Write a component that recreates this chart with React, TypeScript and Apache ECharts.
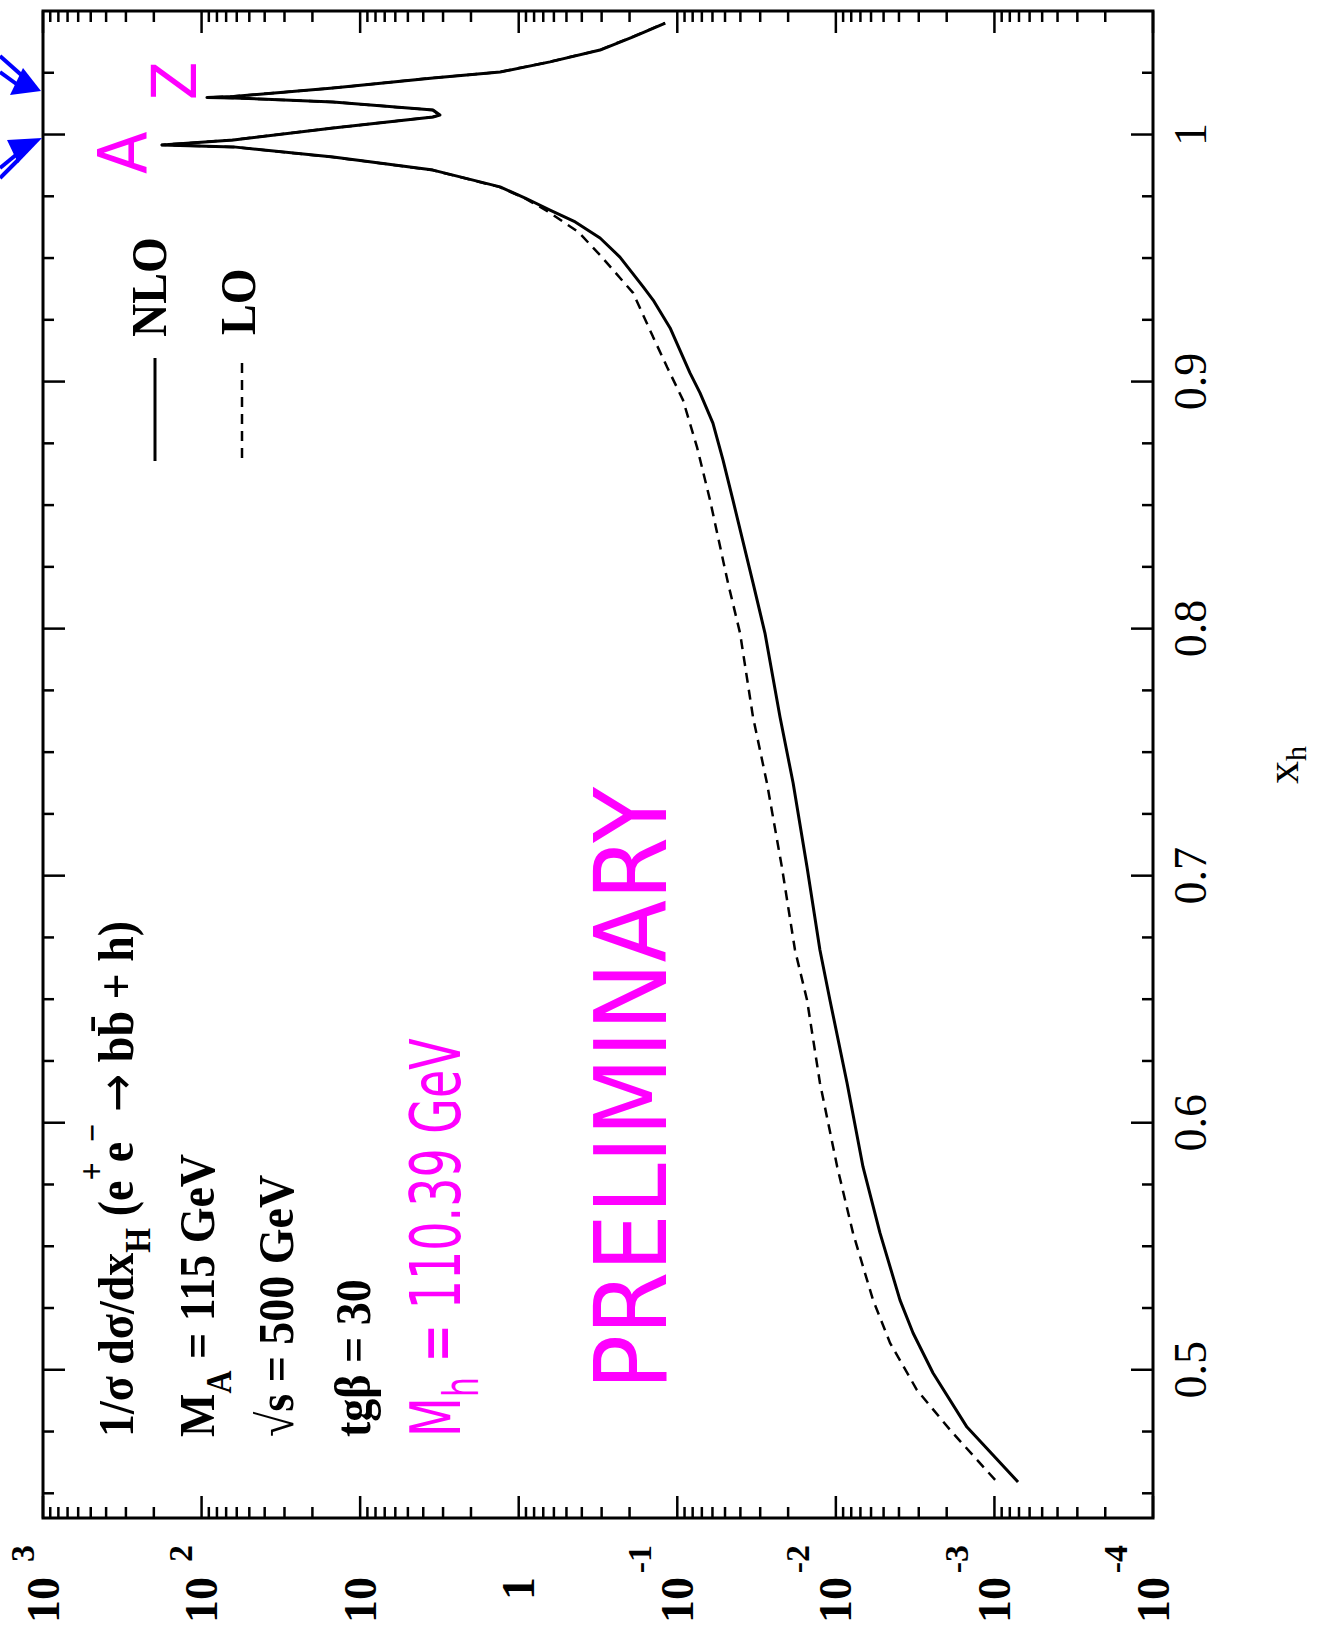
import React, { useEffect, useRef } from "react";
import * as echarts from "echarts";

// ---- data (x_h, 1/sigma dsigma/dx_H) ----
const nloXh = [0.4546, 0.4768, 0.4987, 0.5149, 0.5282, 0.5554, 0.5821, 0.6161, 0.6497, 0.6699, 0.7035, 0.7375, 0.7642, 0.7982, 0.8185, 0.8521, 0.8683, 0.8832, 0.8954, 0.9035, 0.9217, 0.933, 0.9383, 0.9504, 0.9581, 0.9646, 0.9694, 0.9743, 0.9788, 0.9856, 0.9909, 0.995, 0.9958, 0.9978, 1.0026, 1.0071, 1.0079, 1.0099, 1.0132, 1.0148, 1.015, 1.0154, 1.0188, 1.0229, 1.0253, 1.0294, 1.0342, 1.0395, 1.0451];
const nloVal = [7.1e-4, 1.49e-3, 2.44e-3, 3.26e-3, 3.94e-3, 5.27e-3, 6.74e-3, 8.5e-3, 0.0109, 0.0126, 0.0152, 0.0186, 0.0225, 0.028, 0.0333, 0.0446, 0.0515, 0.0596, 0.0719, 0.0832, 0.111, 0.142, 0.164, 0.23, 0.307, 0.44, 0.635, 0.91, 1.31, 3.47, 14.8, 63, 178, 63, 14.8, 3.47, 3.14, 3.47, 14.8, 63, 92.5, 63, 14.8, 3.47, 1.31, 0.635, 0.307, 0.19, 0.119];

const loXh = [0.4554, 0.4756, 0.4918, 0.5108, 0.5283, 0.5554, 0.5821, 0.6161, 0.6497, 0.6699, 0.7035, 0.7375, 0.7642, 0.7982, 0.8185, 0.8521, 0.8735, 0.8925, 0.9059, 0.918, 0.9359, 0.9512, 0.9605, 0.969, 0.9743, 0.9788, 0.9856, 0.9909, 0.995, 0.9958, 0.9978, 1.0026, 1.0071, 1.0079, 1.0099, 1.0132, 1.0148, 1.015, 1.0154, 1.0188, 1.0229, 1.0253, 1.0294, 1.0342, 1.0395, 1.0451];
const loVal = [9.9e-4, 1.9e-3, 3.08e-3, 4.55e-3, 5.83e-3, 7.8e-3, 9.8e-3, 0.0126, 0.0152, 0.0181, 0.0219, 0.0272, 0.0333, 0.0402, 0.0479, 0.0622, 0.0751, 0.092, 0.116, 0.142, 0.19, 0.307, 0.42, 0.66, 0.92, 1.33, 3.5, 15, 64, 180, 64, 15, 3.5, 3.16, 3.5, 15, 64, 93, 64, 15, 3.5, 1.32, 0.64, 0.31, 0.192, 0.12];

// ---- axes ----
const xhMin = 0.44;
const xhMax = 1.05;
const valMin = 1e-4;
const valMax = 1e3;
const xhMajorTicks = [0.5, 0.6, 0.7, 0.8, 0.9, 1.0];
const xhMinorTicks = [0.45, 0.475, 0.525, 0.55, 0.575, 0.625, 0.65, 0.675, 0.725, 0.75, 0.775, 0.825, 0.85, 0.875, 0.925, 0.95, 0.975, 1.025];
const logMajorTicks = [1e-4, 1e-3, 1e-2, 1e-1, 1, 10, 100, 1000];
const logMinorMantissas = [2, 3, 4, 5, 6, 7, 8, 9];

const SERIF = "Liberation Serif";
const HAND = "DejaVu Sans";
const MAGENTA = "#ff00ff";
const BLUE = "#0000ff";

function expOf(v: number) {
  return Math.round(Math.log10(v));
}

export default function App() {
  const ref = useRef<HTMLDivElement>(null);

  useEffect(() => {
    if (!ref.current) return;
    const chart = echarts.init(ref.current, null, { renderer: "svg" });

    const nloData = nloXh.map((x, i) => [nloVal[i], x]);
    const loData = loXh.map((x, i) => [loVal[i], x]);

    const logTickData: number[][] = [];
    logMajorTicks.forEach((v) => logTickData.push([v, 0.75, 1]));
    logMajorTicks.slice(0, -1).forEach((d) =>
      logMinorMantissas.forEach((m) => logTickData.push([d * m, 0.75, 0]))
    );
    const xhTickData: number[][] = [];
    xhMajorTicks.forEach((t) => xhTickData.push([1, t, 1]));
    xhMinorTicks.forEach((t) => xhTickData.push([1, t, 0]));

    const tickStyle = { stroke: "#000", lineWidth: 2.5 };

    const baseLabelStyle = {
      color: "#000",
      fontFamily: SERIF,
      fontSize: 46,
      fontWeight: "bold" as const,
    };

    const logAxisCommon = {
      type: "log" as const,
      logBase: 10,
      min: valMin,
      max: valMax,
      inverse: true,
      position: "bottom" as const,
      splitNumber: 7,
      axisLine: { show: false },
      axisTick: { show: false },
      splitLine: { show: false },
      minorTick: { show: false },
      minorSplitLine: { show: false },
    };

    const T = Math.PI / 2;
    const richBlack = {
      b: { fontFamily: SERIF, fontWeight: "bold", fontSize: 46, lineHeight: 50, fill: "#000", verticalAlign: "middle" },
      ar: { fontFamily: "DejaVu Sans", fontWeight: "normal", fontSize: 46, lineHeight: 50, fill: "#000", verticalAlign: "middle" },
      sb: { fontFamily: SERIF, fontWeight: "bold", fontSize: 32, lineHeight: 32, padding: [40, 0, 0, 0], fill: "#000", verticalAlign: "middle" },
      sp: { fontFamily: SERIF, fontWeight: "bold", fontSize: 32, lineHeight: 32, padding: [0, 0, 44, 0], fill: "#000", verticalAlign: "middle" },
    };
    const richHand = {
      m: { fontFamily: HAND, fontSize: 46, lineHeight: 50, fill: MAGENTA, verticalAlign: "middle" },
      ms: { fontFamily: HAND, fontSize: 32, lineHeight: 32, padding: [34, 0, 0, 0], fill: MAGENTA, verticalAlign: "middle" },
    };
    const richTitle = {
      b: { fontFamily: SERIF, fontSize: 46, lineHeight: 46, fill: "#000", verticalAlign: "middle" },
      s: { fontFamily: SERIF, fontSize: 30, lineHeight: 26, padding: [26, 0, 0, 0], fill: "#000", verticalAlign: "middle" },
    };

    const rotText = (x: number, y: number, text: string, rich: any, sx = 1, sy = 1.1) => ({
      type: "text",
      x,
      y,
      rotation: T,
      scaleX: sx,
      scaleY: sy,
      style: {
        text,
        rich,
        align: "left",
        verticalAlign: "middle",
        textAlign: "left",
        textVerticalAlign: "middle",
      },
    });

    const plainRot = (
      x: number,
      y: number,
      text: string,
      font: string,
      size: number,
      weight: string,
      fill: string,
      sx = 1,
      sy = 1.1
    ) => ({
      type: "text",
      x,
      y,
      rotation: T,
      scaleX: sx,
      scaleY: sy,
      style: {
        text,
        fontFamily: font,
        fontSize: size,
        fontWeight: weight,
        fill,
        align: "left",
        verticalAlign: "middle",
        textAlign: "left",
        textVerticalAlign: "middle",
      },
    });

    const option: any = {
      animation: false,
      backgroundColor: "#ffffff",
      grid: {
        left: 43,
        top: 11,
        width: 1110,
        height: 1507,
        show: true,
        borderColor: "#000",
        borderWidth: 3,
        backgroundColor: "transparent",
        containLabel: false,
        outerBoundsMode: "none",
      },
      xAxis: [
        {
          ...logAxisCommon,
          axisLabel: {
            ...baseLabelStyle,
            rotate: 90,
            margin: 59,
            formatter: (v: number) => {
              const e = expOf(v);
              return e === 0 ? "1" : "10";
            },
          },
        },
        {
          ...logAxisCommon,
          axisLabel: {
            rotate: 90,
            margin: 27,
            formatter: (v: number) => {
              const e = expOf(v);
              if (e === 0 || e === 1) return "";
              return e > 0 ? `{p|${e}}` : `{n|${e}}`;
            },
            rich: {
              p: { color: "#000", fontFamily: SERIF, fontWeight: "bold", fontSize: 34, lineHeight: 34, padding: [0, 0, 42, 0] },
              n: { color: "#000", fontFamily: SERIF, fontWeight: "bold", fontSize: 34, lineHeight: 34, padding: [0, 0, 76, 0] },
            },
          },
        },
      ],
      yAxis: [
        {
          type: "value",
          min: xhMin,
          max: xhMax,
          position: "right",
          axisLine: { show: false },
          axisTick: { show: false },
          splitLine: { show: false },
          axisLabel: {
            rotate: 90,
            margin: 14,
            color: "#000",
            fontFamily: SERIF,
            fontSize: 46,
            formatter: (v: number) =>
              Math.abs(v * 10 - Math.round(v * 10)) < 1e-6 ? String(Math.round(v * 10) / 10) : "",
          },
        },
      ],
      series: [
        {
          type: "custom",
          name: "log ticks",
          xAxisIndex: 0,
          yAxisIndex: 0,
          silent: true,
          z: 6,
          data: logTickData,
          renderItem: (_p: any, api: any) => {
            const v = api.value(0);
            const len = api.value(2) === 1 ? 22 : 11;
            const top = api.coord([v, xhMax]);
            const bot = api.coord([v, xhMin]);
            return {
              type: "group",
              children: [
                { type: "line", shape: { x1: top[0], y1: top[1], x2: top[0], y2: top[1] + len }, style: tickStyle },
                { type: "line", shape: { x1: bot[0], y1: bot[1], x2: bot[0], y2: bot[1] - len }, style: tickStyle },
              ],
            };
          },
        },
        {
          type: "custom",
          name: "xh ticks",
          xAxisIndex: 0,
          yAxisIndex: 0,
          silent: true,
          z: 6,
          data: xhTickData,
          renderItem: (_p: any, api: any) => {
            const t = api.value(1);
            const len = api.value(2) === 1 ? 22 : 11;
            const l = api.coord([valMax, t]);
            const r = api.coord([valMin, t]);
            return {
              type: "group",
              children: [
                { type: "line", shape: { x1: l[0], y1: l[1], x2: l[0] + len, y2: l[1] }, style: tickStyle },
                { type: "line", shape: { x1: r[0], y1: r[1], x2: r[0] - len, y2: r[1] }, style: tickStyle },
              ],
            };
          },
        },
        {
          type: "line",
          name: "NLO",
          data: nloData,
          symbol: "none",
          showSymbol: false,
          z: 4,
          lineStyle: { color: "#000", width: 3, join: "round" },
        },
        {
          type: "line",
          name: "LO",
          data: loData,
          symbol: "none",
          showSymbol: false,
          z: 4,
          lineStyle: { color: "#000", width: 2.5, type: [10, 7] },
        },
      ],
      graphic: [
        // physics labels
        rotText(116, 1437, "{b|1/σ dσ/dx}{sb|H}{b|\u00a0(e}{sp|+}{b|e}{sp|−}{b|\u00a0}{ar|→}{b|\u00a0b}{b|b\u0304}{b|\u00a0+\u00a0h)}", richBlack),
        rotText(197, 1437, "{b|M}{sb|A}{b|\u00a0=\u00a0115 GeV}", richBlack),
        rotText(276, 1437, "{b|√s\u00a0=\u00a0500 GeV}", richBlack),
        rotText(353, 1437, "{b|tgβ\u00a0=\u00a030}", richBlack),
        // handwritten annotations
        rotText(436, 1437, "{m|M}{ms|h}{m|\u00a0=\u00a0110.39 GeV}", richHand, 1, 1.5),
        plainRot(632, 1390, "PRELIMINARY", HAND, 80, "normal", MAGENTA, 1.14, 1.25),
        plainRot(123, 174, "A", HAND, 62, "normal", MAGENTA, 1.0, 1.1),
        plainRot(175, 100, "Z", HAND, 56, "normal", MAGENTA, 1.0, 1.1),
        // legend
        plainRot(149, 337, "NLO", SERIF, 46, "bold", "#000"),
        plainRot(238, 335, "LO", SERIF, 46, "bold", "#000"),
        { type: "line", shape: { x1: 155, y1: 358, x2: 155, y2: 461 }, style: { stroke: "#000", lineWidth: 3 } },
        { type: "line", shape: { x1: 242, y1: 363, x2: 242, y2: 461 }, style: { stroke: "#000", lineWidth: 2.5, lineDash: [10, 7] } },
        // axis title
        rotText(1282, 784, "{b|x}{s|h}", richTitle, 1, 1.0),
        // blue arrows
        { type: "polygon", shape: { points: [[41, 91], [10, 95], [23, 68]] }, style: { fill: BLUE } },
        { type: "line", shape: { x1: 0, y1: 56, x2: 27, y2: 80 }, style: { stroke: BLUE, lineWidth: 4 } },
        { type: "line", shape: { x1: 0, y1: 72, x2: 22, y2: 88 }, style: { stroke: BLUE, lineWidth: 4 } },
        { type: "polygon", shape: { points: [[42, 138], [7, 140], [18, 163]] }, style: { fill: BLUE } },
        { type: "line", shape: { x1: 0, y1: 168, x2: 22, y2: 150 }, style: { stroke: BLUE, lineWidth: 4 } },
        { type: "line", shape: { x1: 0, y1: 178, x2: 18, y2: 160 }, style: { stroke: BLUE, lineWidth: 4 } },
      ],
    };

    chart.setOption(option);
    return () => chart.dispose();
  }, []);

  return (
    <div
      ref={ref}
      style={{ position: "absolute", left: 0, top: 0, width: 1318, height: 1650, background: "#fff" }}
    />
  );
}
